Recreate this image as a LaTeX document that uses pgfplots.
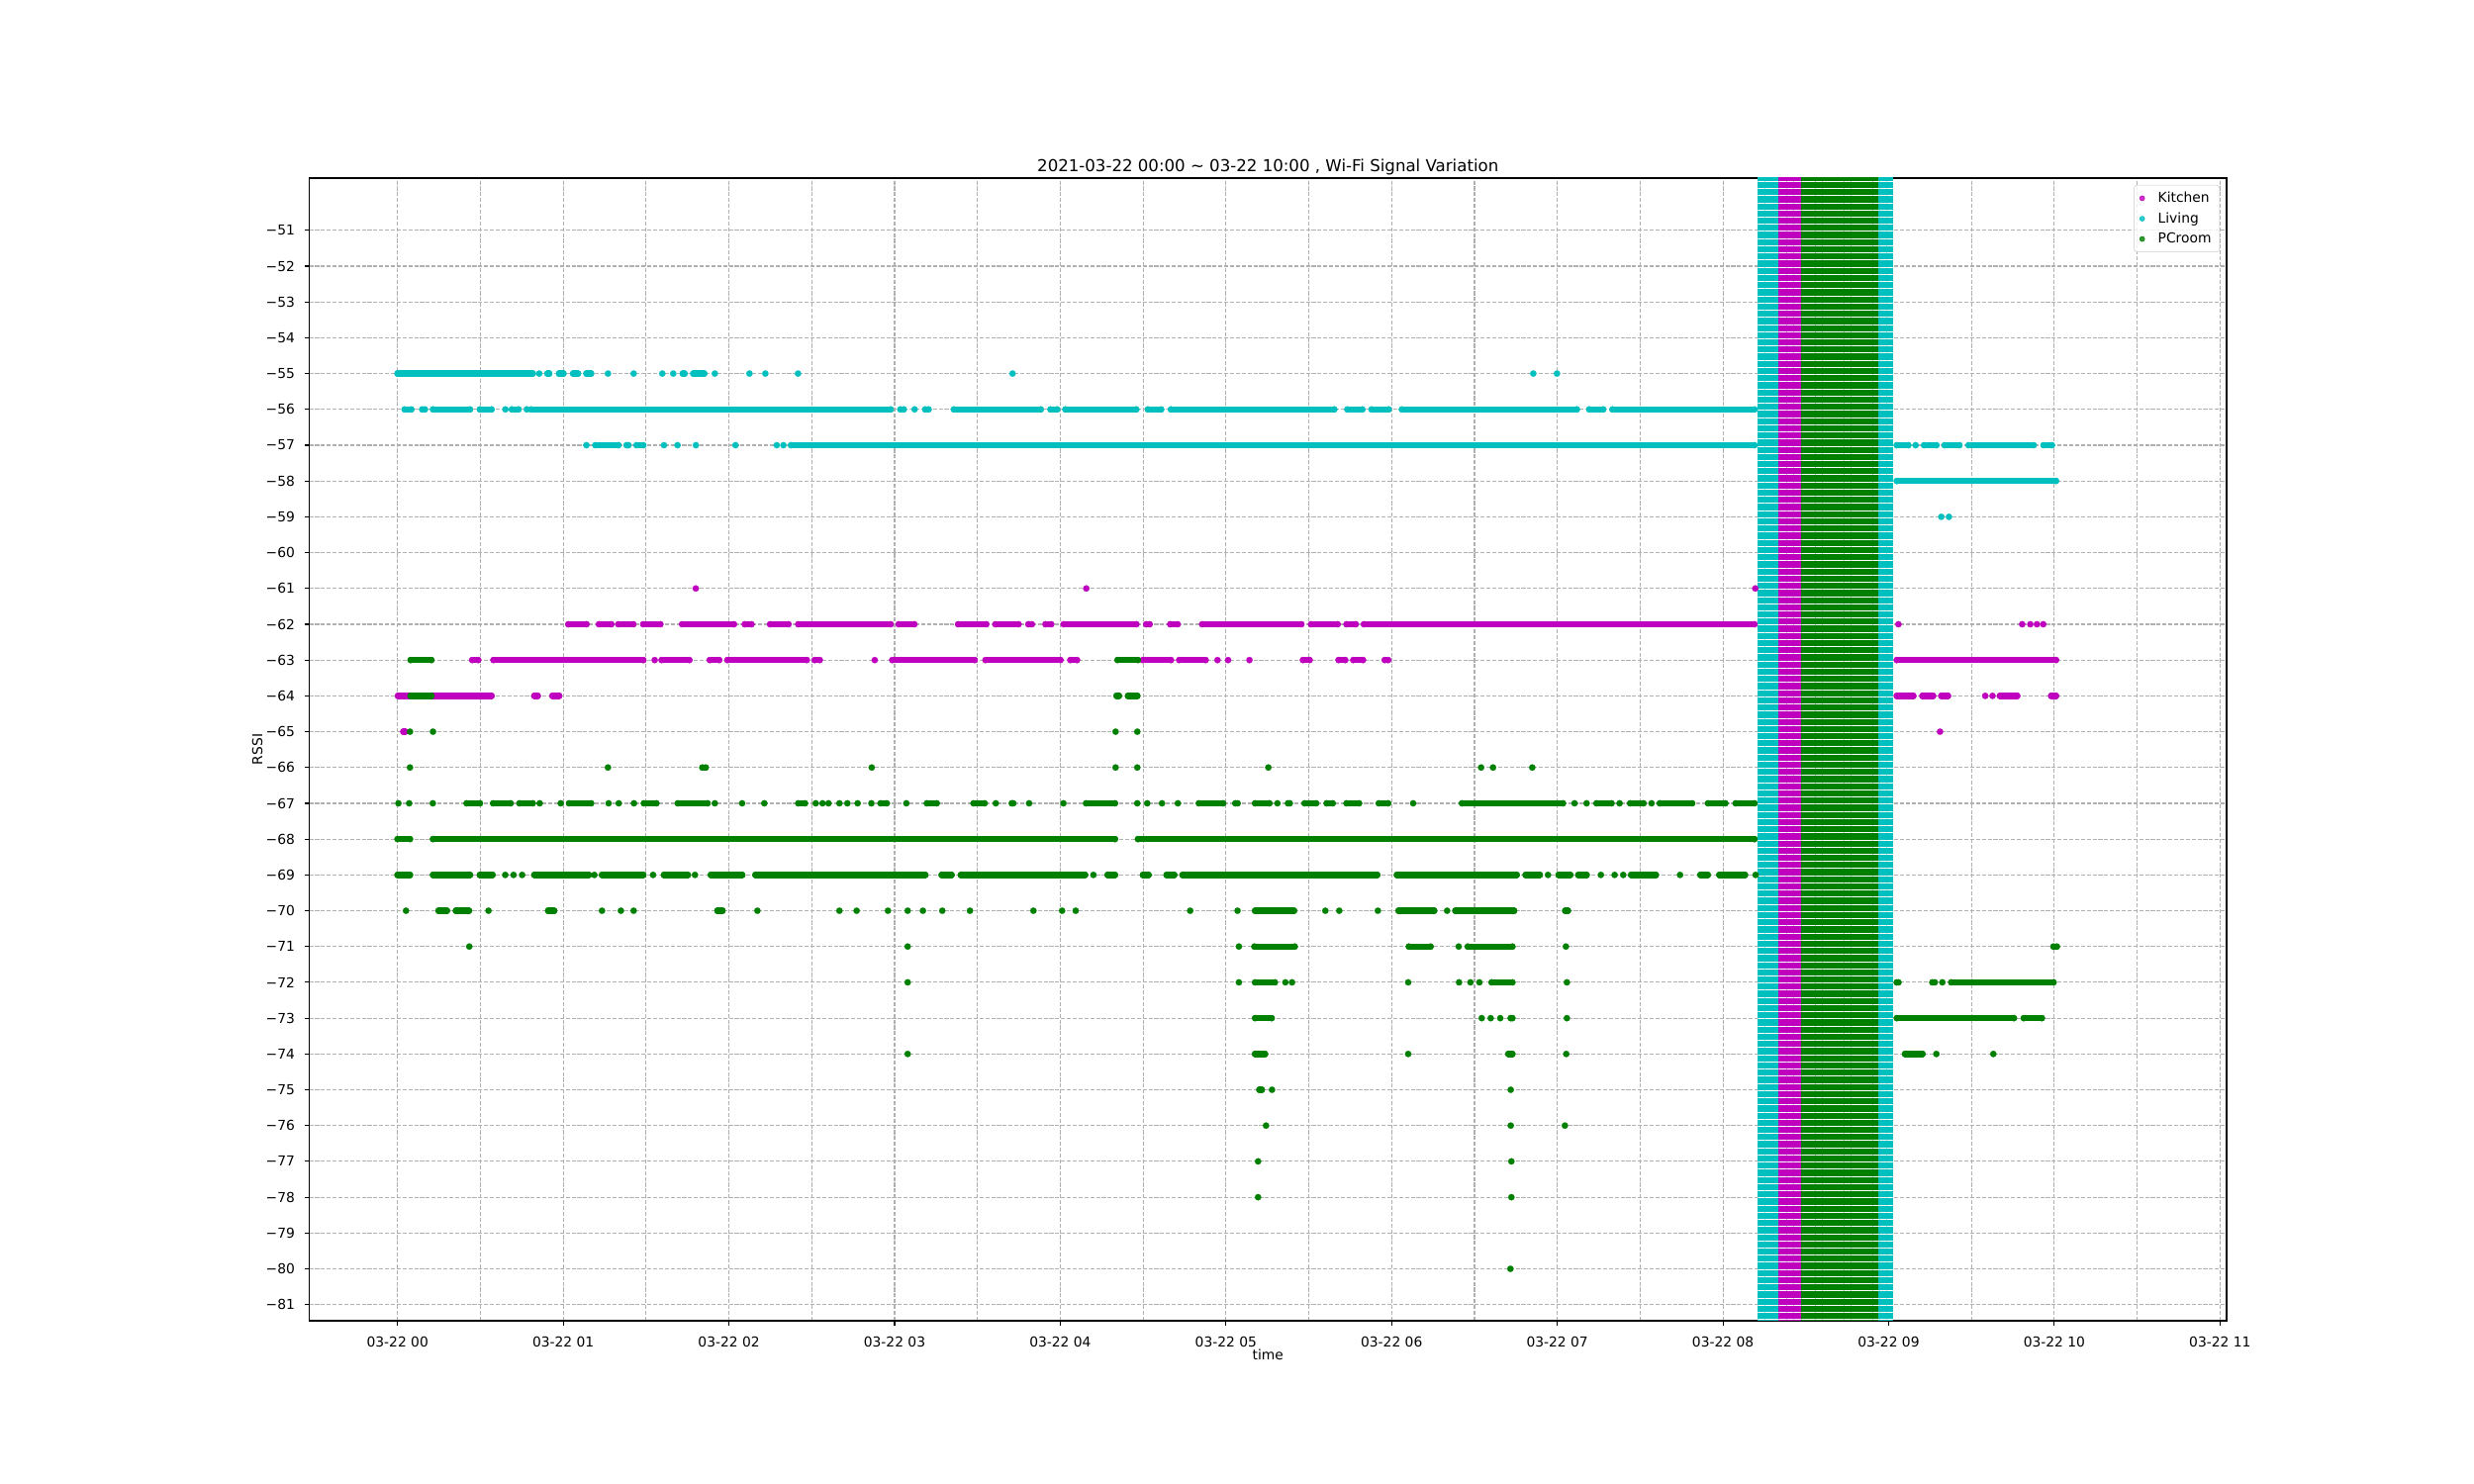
\documentclass[border=0pt]{standalone}
\usepackage{fontspec}
\setmainfont{DejaVu Sans}
\usepackage{pgfplots}
\pgfplotsset{compat=1.18}
\usetikzlibrary{patterns.meta}
\definecolor{kit}{rgb}{0.75,0,0.75}
\definecolor{liv}{rgb}{0,0.75,0.75}
\definecolor{pcr}{rgb}{0,0.5,0}
\definecolor{gridc}{HTML}{B0B0B0}
\pgfplotsset{
  seg/.style={forget plot, color=#1, line width=4.6bp, line cap=round, line join=round,
    mark=*, mark size=2.3bp, mark options={line width=0.1bp, fill=#1}, unbounded coords=jump},
  blk/.style={forget plot, fill=#1, draw=none,
    postaction={pattern={Lines[angle=0,distance=5.21bp,line width=0.3bp]}, pattern color=white}}
}
\begin{document}
\begin{tikzpicture}
\useasboundingbox (0,0) rectangle (1800bp,1080bp);
\begin{axis}[
  at={(225bp,118.8bp)}, anchor=south west,
  scale only axis, width=1395bp, height=831.6bp,
  xmin=-0.533, xmax=11.04, ymin=-81.45, ymax=-49.54,
  axis line style={line width=0.8bp},
  tick align=outside, xtick pos=left, ytick pos=left,
  major tick length=3.5bp, minor tick length=0pt,
  every tick/.style={black, line width=0.8bp},
  xtick={0,1,2,3,4,5,6,7,8,9,10,11},
  xticklabels={03-22 00,03-22 01,03-22 02,03-22 03,03-22 04,03-22 05,03-22 06,03-22 07,03-22 08,03-22 09,03-22 10,03-22 11},
  minor xtick={0.5,1.5,2.5,3.5,4.5,5.5,6.5,7.5,8.5,9.5,10.5},
  ytick={-81,-80,-79,-78,-77,-76,-75,-74,-73,-72,-71,-70,-69,-68,-67,-66,-65,-64,-63,-62,-61,-60,-59,-58,-57,-56,-55,-54,-53,-52,-51},
  yticklabels={−81,−80,−79,−78,−77,−76,−75,−74,−73,−72,−71,−70,−69,−68,−67,−66,−65,−64,−63,−62,−61,−60,−59,−58,−57,−56,−55,−54,−53,−52,−51},
  xmajorgrids, xminorgrids, ymajorgrids,
  major grid style={gridc, line width=0.8bp, dash pattern=on 2.96bp off 1.28bp},
  minor grid style={gridc, line width=0.8bp, dash pattern=on 2.96bp off 1.28bp},
  xticklabel style={font=\fontsize{10}{12}\selectfont, anchor=north, inner sep=0pt, yshift=-8bp},
  yticklabel style={font=\fontsize{10}{12}\selectfont, anchor=east, inner sep=0pt, xshift=-6.8bp},
  title={2021-03-22 00:00 \textasciitilde{} 03-22 10:00 , Wi-Fi Signal Variation},
  title style={at={(axis description cs:0.5,1.00673)}, anchor=base, inner sep=0pt, yshift=-7bp, font=\fontsize{12}{14}\selectfont},
  xlabel={time},
  xlabel style={at={(axis description cs:0.5,-0.0345)}, anchor=base, inner sep=0pt, font=\fontsize{10}{12}\selectfont},
  ylabel={RSSI},
  ylabel style={at={(axis description cs:-0.0245,0.5)}, anchor=base, inner sep=0pt, font=\fontsize{10}{12}\selectfont},
  legend style={at={(axis description cs:1,1)}, xshift=-5bp, yshift=-5bp, anchor=north east,
    draw=black!20, rounded corners=2bp, fill=white, fill opacity=0.8, text opacity=1,
    font=\fontsize{10}{12}\selectfont, row sep=1.8bp, inner xsep=4bp, inner ysep=3bp,
    /tikz/every odd column/.append style={column sep=7.7bp}},
  legend cell align=left,
]
\addlegendimage{only marks, mark=*, mark size=1.8bp, kit}
\addlegendentry{Kitchen}
\addlegendimage{only marks, mark=*, mark size=1.8bp, liv}
\addlegendentry{Living}
\addlegendimage{only marks, mark=*, mark size=1.8bp, pcr}
\addlegendentry{PCroom}

% ---------------- Kitchen ----------------
\addplot[seg=kit] table[row sep=\\] {
x y\\
1.80 -61\\ nan nan\\ 4.157 -61\\ nan nan\\ 8.195 -61\\ nan nan\\
1.031 -62\\ 1.140 -62\\ nan nan\\ 1.216 -62\\ 1.290 -62\\ nan nan\\
1.333 -62\\ 1.423 -62\\ nan nan\\ 1.483 -62\\ 1.586 -62\\ nan nan\\
1.718 -62\\ 2.030 -62\\ nan nan\\ 2.096 -62\\ 2.136 -62\\ nan nan\\
2.249 -62\\ 2.359 -62\\ nan nan\\ 2.419 -62\\ 2.976 -62\\ nan nan\\
3.025 -62\\ 3.119 -62\\ nan nan\\ 3.384 -62\\ 3.553 -62\\ nan nan\\
3.609 -62\\ 3.748 -62\\ nan nan\\ 3.808 -62\\ 3.828 -62\\ nan nan\\
3.911 -62\\ 3.945 -62\\ nan nan\\ 4.021 -62\\ 4.459 -62\\ nan nan\\
4.519 -62\\ 4.539 -62\\ nan nan\\ 4.664 -62\\ 4.708 -62\\ nan nan\\
4.857 -62\\ 5.455 -62\\ nan nan\\ 5.514 -62\\ 5.674 -62\\ nan nan\\
5.728 -62\\ 5.783 -62\\ nan nan\\ 5.833 -62\\ 8.19 -62\\ nan nan\\
9.059 -62\\ nan nan\\ 9.806 -62\\ nan nan\\ 9.855 -62\\ nan nan\\
9.895 -62\\ nan nan\\ 9.933 -62\\ nan nan\\
0.451 -63\\ 0.487 -63\\ nan nan\\ 0.579 -63\\ 1.483 -63\\ nan nan\\
1.552 -63\\ nan nan\\ 1.594 -63\\ 1.761 -63\\ nan nan\\
1.885 -63\\ 1.941 -63\\ nan nan\\ 1.991 -63\\ 2.470 -63\\ nan nan\\
2.518 -63\\ 2.548 -63\\ nan nan\\ 2.880 -63\\ nan nan\\
2.986 -63\\ 3.483 -63\\ nan nan\\ 3.549 -63\\ 4.001 -63\\ nan nan\\
4.061 -63\\ 4.101 -63\\ nan nan\\ 4.499 -63\\ 4.668 -63\\ nan nan\\
4.718 -63\\ 4.877 -63\\ nan nan\\ 4.949 -63\\ nan nan\\ 5.013 -63\\ nan nan\\
5.142 -63\\ nan nan\\ 5.465 -63\\ 5.505 -63\\ nan nan\\
5.680 -63\\ 5.720 -63\\ nan nan\\ 5.769 -63\\ 5.827 -63\\ nan nan\\
5.959 -63\\ 5.979 -63\\ nan nan\\ 9.049 -63\\ 10.01 -63\\ nan nan\\
0.003 -64\\ 0.567 -64\\ nan nan\\ 0.826 -64\\ 0.846 -64\\ nan nan\\
0.935 -64\\ 0.975 -64\\ nan nan\\ 9.049 -64\\ 9.149 -64\\ nan nan\\
9.204 -64\\ 9.268 -64\\ nan nan\\ 9.318 -64\\ 9.358 -64\\ nan nan\\
9.583 -64\\ nan nan\\ 9.627 -64\\ nan nan\\ 9.672 -64\\ 9.776 -64\\ nan nan\\
9.981 -64\\ 10.01 -64\\ nan nan\\
0.035 -65\\ 0.045 -65\\ nan nan\\ 9.31 -65\\
};

% ---------------- Living ----------------
\addplot[seg=liv] table[row sep=\\] {
x y\\
0.0 -55\\ 0.816 -55\\ nan nan\\ 0.855 -55\\ nan nan\\
0.905 -55\\ 0.915 -55\\ nan nan\\ 0.975 -55\\ 1.001 -55\\ nan nan\\
1.06 -55\\ 1.089 -55\\ nan nan\\ 1.14 -55\\ 1.168 -55\\ nan nan\\
1.270 -55\\ nan nan\\ 1.425 -55\\ nan nan\\ 1.598 -55\\ nan nan\\ 1.664 -55\\ nan nan\\
1.722 -55\\ 1.732 -55\\ nan nan\\ 1.785 -55\\ 1.851 -55\\ nan nan\\
1.915 -55\\ nan nan\\ 2.124 -55\\ nan nan\\ 2.220 -55\\ nan nan\\ 2.417 -55\\ nan nan\\
3.712 -55\\ nan nan\\ 6.855 -55\\ nan nan\\ 6.998 -55\\ nan nan\\
0.043 -56\\ 0.083 -56\\ nan nan\\ 0.149 -56\\ 0.165 -56\\ nan nan\\
0.214 -56\\ 0.437 -56\\ nan nan\\ 0.497 -56\\ 0.567 -56\\ nan nan\\
0.651 -56\\ nan nan\\ 0.69 -56\\ 0.73 -56\\ nan nan\\ 0.78 -56\\ nan nan\\
0.806 -56\\ 2.976 -56\\ nan nan\\ 3.035 -56\\ 3.055 -56\\ nan nan\\
3.121 -56\\ nan nan\\ 3.185 -56\\ 3.205 -56\\ nan nan\\
3.358 -56\\ 3.882 -56\\ nan nan\\ 3.941 -56\\ 3.981 -56\\ nan nan\\
4.031 -56\\ 4.459 -56\\ nan nan\\ 4.529 -56\\ 4.609 -56\\ nan nan\\
4.668 -56\\ 5.654 -56\\ nan nan\\ 5.733 -56\\ 5.823 -56\\ nan nan\\
5.879 -56\\ 5.982 -56\\ nan nan\\ 6.062 -56\\ 7.118 -56\\ nan nan\\
7.193 -56\\ 7.277 -56\\ nan nan\\ 7.333 -56\\ 8.19 -56\\ nan nan\\
1.140 -57\\ nan nan\\ 1.194 -57\\ 1.333 -57\\ nan nan\\
1.383 -57\\ 1.393 -57\\ nan nan\\ 1.443 -57\\ 1.483 -57\\ nan nan\\
1.608 -57\\ nan nan\\ 1.690 -57\\ nan nan\\ 1.801 -57\\ nan nan\\ 2.040 -57\\ nan nan\\
2.289 -57\\ nan nan\\ 2.329 -57\\ nan nan\\ 2.375 -57\\ 8.19 -57\\ nan nan\\
9.049 -57\\ 9.119 -57\\ nan nan\\ 9.163 -57\\ nan nan\\
9.214 -57\\ 9.288 -57\\ nan nan\\ 9.338 -57\\ 9.427 -57\\ nan nan\\
9.483 -57\\ 9.875 -57\\ nan nan\\ 9.935 -57\\ 9.985 -57\\ nan nan\\
9.049 -58\\ 10.01 -58\\ nan nan\\
9.318 -59\\ nan nan\\ 9.364 -59\\
};

% ---------------- PCroom ----------------
\addplot[seg=pcr] table[row sep=\\] {
x y\\
0.079 -63\\ 0.204 -63\\ nan nan\\ 4.346 -63\\ 4.469 -63\\ nan nan\\
0.079 -64\\ 0.204 -64\\ nan nan\\ 4.340 -64\\ 4.354 -64\\ nan nan\\ 4.409 -64\\ 4.465 -64\\ nan nan\\
0.075 -65\\ nan nan\\ 0.214 -65\\ nan nan\\ 4.334 -65\\ nan nan\\ 4.465 -65\\ nan nan\\
0.075 -66\\ nan nan\\ 1.270 -66\\ nan nan\\ 1.840 -66\\ 1.860 -66\\ nan nan\\ 2.862 -66\\ nan nan\\
4.334 -66\\ nan nan\\ 4.465 -66\\ nan nan\\ 5.256 -66\\ nan nan\\ 6.540 -66\\ nan nan\\
6.612 -66\\ nan nan\\ 6.849 -66\\ nan nan\\
0.005 -67\\ nan nan\\ 0.07 -67\\ nan nan\\ 0.213 -67\\ nan nan\\
0.417 -67\\ 0.497 -67\\ nan nan\\ 0.577 -67\\ 0.682 -67\\ nan nan\\
0.736 -67\\ 0.816 -67\\ nan nan\\ 0.858 -67\\ nan nan\\ 0.985 -67\\ nan nan\\
1.035 -67\\ 1.168 -67\\ nan nan\\ 1.274 -67\\ nan nan\\ 1.335 -67\\ nan nan\\ 1.427 -67\\ nan nan\\
1.487 -67\\ 1.562 -67\\ nan nan\\ 1.692 -67\\ 1.871 -67\\ nan nan\\
1.915 -67\\ nan nan\\ 2.080 -67\\ nan nan\\ 2.214 -67\\ nan nan\\
2.419 -67\\ 2.459 -67\\ nan nan\\ 2.524 -67\\ nan nan\\ 2.565 -67\\ nan nan\\ 2.601 -67\\ nan nan\\
2.667 -67\\ nan nan\\ 2.715 -67\\ nan nan\\ 2.777 -67\\ nan nan\\ 2.860 -67\\ nan nan\\
2.916 -67\\ 2.952 -67\\ nan nan\\ 3.071 -67\\ nan nan\\ 3.195 -67\\ 3.254 -67\\ nan nan\\
3.477 -67\\ 3.543 -67\\ nan nan\\ 3.611 -67\\ nan nan\\ 3.708 -67\\ 3.716 -67\\ nan nan\\
3.812 -67\\ nan nan\\ 4.019 -67\\ nan nan\\ 4.156 -67\\ 4.330 -67\\ nan nan\\
4.465 -67\\ nan nan\\ 4.525 -67\\ nan nan\\ 4.614 -67\\ nan nan\\ 4.710 -67\\ nan nan\\
4.837 -67\\ 4.983 -67\\ nan nan\\ 5.057 -67\\ 5.070 -67\\ nan nan\\
5.176 -67\\ 5.262 -67\\ nan nan\\ 5.311 -67\\ nan nan\\ 5.375 -67\\ 5.385 -67\\ nan nan\\
5.475 -67\\ 5.544 -67\\ nan nan\\ 5.608 -67\\ 5.644 -67\\ nan nan\\
5.728 -67\\ 5.803 -67\\ nan nan\\ 5.923 -67\\ 5.979 -67\\ nan nan\\
6.130 -67\\ nan nan\\ 6.425 -67\\ 7.034 -67\\ nan nan\\ 7.104 -67\\ nan nan\\ 7.177 -67\\ nan nan\\
7.237 -67\\ 7.327 -67\\ nan nan\\ 7.376 -67\\ nan nan\\ 7.440 -67\\ 7.520 -67\\ nan nan\\
7.569 -67\\ nan nan\\ 7.619 -67\\ 7.814 -67\\ nan nan\\ 7.910 -67\\ 8.014 -67\\ nan nan\\
8.077 -67\\ 8.19 -67\\ nan nan\\
0.0 -68\\ 0.075 -68\\ nan nan\\ 0.214 -68\\ 4.330 -68\\ nan nan\\ 4.469 -68\\ 8.19 -68\\ nan nan\\
0.0 -69\\ 0.075 -69\\ nan nan\\ 0.214 -69\\ 0.437 -69\\ nan nan\\ 0.497 -69\\ 0.573 -69\\ nan nan\\
0.65 -69\\ nan nan\\ 0.700 -69\\ nan nan\\ 0.752 -69\\ nan nan\\
0.826 -69\\ 1.154 -69\\ nan nan\\ 1.188 -69\\ nan nan\\ 1.234 -69\\ 1.483 -69\\ nan nan\\
1.542 -69\\ nan nan\\ 1.608 -69\\ 1.752 -69\\ nan nan\\ 1.795 -69\\ nan nan\\
1.891 -69\\ 2.080 -69\\ nan nan\\ 2.160 -69\\ 3.185 -69\\ nan nan\\
3.284 -69\\ 3.344 -69\\ nan nan\\ 3.400 -69\\ 4.150 -69\\ nan nan\\ 4.200 -69\\ nan nan\\
4.286 -69\\ 4.330 -69\\ nan nan\\ 4.499 -69\\ 4.533 -69\\ nan nan\\
4.642 -69\\ 4.688 -69\\ nan nan\\ 4.738 -69\\ 5.913 -69\\ nan nan\\
6.032 -69\\ 6.755 -69\\ nan nan\\ 6.809 -69\\ 6.894 -69\\ nan nan\\ 6.944 -69\\ nan nan\\
7.008 -69\\ 7.078 -69\\ nan nan\\ 7.127 -69\\ 7.177 -69\\ nan nan\\
7.263 -69\\ nan nan\\ 7.346 -69\\ nan nan\\ 7.398 -69\\ nan nan\\
7.446 -69\\ 7.595 -69\\ nan nan\\ 7.741 -69\\ nan nan\\ 7.864 -69\\ 7.908 -69\\ nan nan\\
7.978 -69\\ 8.133 -69\\ nan nan\\ 8.197 -69\\ nan nan\\
0.051 -70\\ nan nan\\ 0.248 -70\\ 0.298 -70\\ nan nan\\ 0.352 -70\\ 0.431 -70\\ nan nan\\
0.549 -70\\ nan nan\\ 0.909 -70\\ 0.945 -70\\ nan nan\\ 1.234 -70\\ nan nan\\
1.348 -70\\ nan nan\\ 1.425 -70\\ nan nan\\ 1.931 -70\\ 1.961 -70\\ nan nan\\
2.172 -70\\ nan nan\\ 2.667 -70\\ nan nan\\ 2.771 -70\\ nan nan\\ 2.960 -70\\ nan nan\\
3.079 -70\\ nan nan\\ 3.171 -70\\ nan nan\\ 3.288 -70\\ nan nan\\ 3.455 -70\\ nan nan\\
3.838 -70\\ nan nan\\ 4.011 -70\\ nan nan\\ 4.093 -70\\ nan nan\\ 4.784 -70\\ nan nan\\
5.070 -70\\ nan nan\\ 5.176 -70\\ 5.411 -70\\ nan nan\\ 5.600 -70\\ nan nan\\
5.684 -70\\ nan nan\\ 5.917 -70\\ nan nan\\ 6.042 -70\\ 6.257 -70\\ nan nan\\
6.335 -70\\ nan nan\\ 6.385 -70\\ 6.739 -70\\ nan nan\\ 7.048 -70\\ 7.064 -70\\ nan nan\\
0.433 -71\\ nan nan\\ 3.079 -71\\ nan nan\\ 5.078 -71\\ nan nan\\ 5.172 -71\\ 5.415 -71\\ nan nan\\
6.104 -71\\ 6.235 -71\\ nan nan\\ 6.405 -71\\ nan nan\\ 6.460 -71\\ 6.729 -71\\ nan nan\\
7.052 -71\\ nan nan\\ 9.995 -71\\ 10.015 -71\\ nan nan\\
3.079 -72\\ nan nan\\ 5.078 -72\\ nan nan\\ 5.176 -72\\ 5.295 -72\\ nan nan\\
5.359 -72\\ nan nan\\ 5.399 -72\\ nan nan\\ 6.100 -72\\ nan nan\\ 6.407 -72\\ nan nan\\
6.476 -72\\ nan nan\\ 6.530 -72\\ nan nan\\ 6.604 -72\\ 6.729 -72\\ nan nan\\
7.058 -72\\ nan nan\\ 9.049 -72\\ 9.059 -72\\ nan nan\\ 9.264 -72\\ 9.278 -72\\ nan nan\\
9.324 -72\\ nan nan\\ 9.378 -72\\ 9.995 -72\\ nan nan\\
5.176 -73\\ 5.276 -73\\ nan nan\\ 6.544 -73\\ nan nan\\ 6.598 -73\\ nan nan\\
6.656 -73\\ nan nan\\ 6.719 -73\\ 6.729 -73\\ nan nan\\ 7.058 -73\\ nan nan\\
9.049 -73\\ 9.756 -73\\ nan nan\\ 9.816 -73\\ 9.925 -73\\ nan nan\\
3.079 -74\\ nan nan\\ 5.176 -74\\ 5.236 -74\\ nan nan\\ 6.100 -74\\ nan nan\\
6.705 -74\\ 6.729 -74\\ nan nan\\ 7.054 -74\\ nan nan\\ 9.099 -74\\ 9.204 -74\\ nan nan\\
9.288 -74\\ nan nan\\ 9.632 -74\\ nan nan\\
5.202 -75\\ 5.216 -75\\ nan nan\\ 5.278 -75\\ nan nan\\ 6.719 -75\\ nan nan\\
5.242 -76\\ nan nan\\ 6.719 -76\\ nan nan\\ 7.046 -76\\ nan nan\\
5.194 -77\\ nan nan\\ 6.723 -77\\ nan nan\\
5.194 -78\\ nan nan\\ 6.723 -78\\ nan nan\\
6.717 -80\\
};

% ---------------- dense block 08:12 - 09:02 ----------------
\addplot[blk=liv] coordinates {(8.209,-49) (8.336,-49) (8.336,-82) (8.209,-82)};
\addplot[blk=liv] coordinates {(8.473,-49) (9.026,-49) (9.026,-82) (8.473,-82)};
\addplot[blk=kit] coordinates {(8.336,-49) (8.473,-49) (8.473,-82) (8.336,-82)};
\addplot[blk=pcr] coordinates {(8.473,-49) (8.94,-49) (8.94,-82) (8.473,-82)};
\end{axis}
\end{tikzpicture}
\end{document}
